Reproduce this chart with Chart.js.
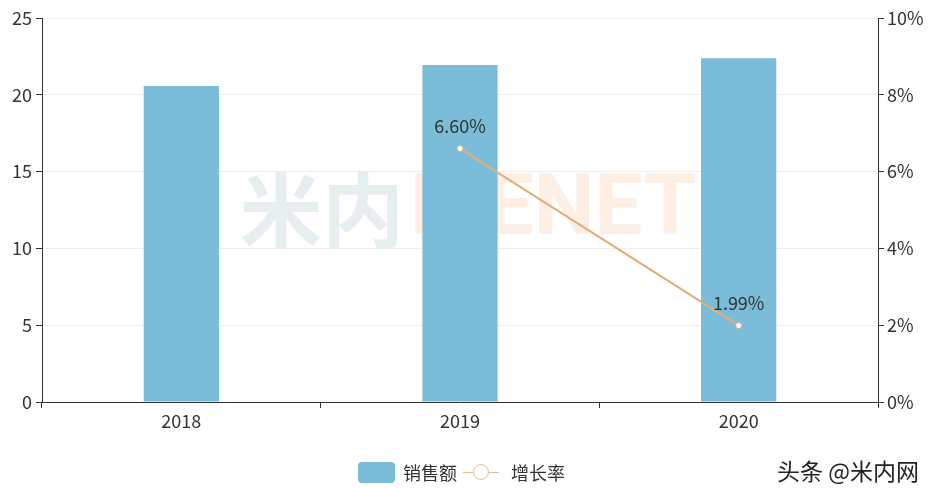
<!DOCTYPE html>
<html>
<head>
<meta charset="utf-8">
<script src="https://cdn.jsdelivr.net/npm/chart.js@4/dist/chart.umd.min.js"></script>
<style>
  html, body { margin: 0; padding: 0; background: #fff; }
  #wrap { position: relative; width: 934px; height: 488px; }
  .lg { position: absolute; top: 459px; font: 18px "Noto Sans CJK SC", sans-serif; color: #333; display: flex; align-items: center; }
  .sw-bar { display: inline-block; width: 37px; height: 21px; border-radius: 4px; background: #7bbdd8; margin-right: 8px; }
  .sw-line { position: relative; display: inline-block; width: 36px; height: 21px; margin-right: 12px; }
  .sw-line:before { content: ""; position: absolute; left: 0; right: 0; top: 10px; height: 1px; background: #e3c29a; }
  .sw-line:after { content: ""; position: absolute; left: 10px; top: 2px; width: 14px; height: 14px; border: 1.5px solid #e3c29a; border-radius: 50%; background: #fff; }
  #mark { position: absolute; left: 777px; top: 453px; font: 23px "Noto Sans CJK SC", sans-serif; color: #222; }
</style>
</head>
<body>
<div id="wrap">
  <canvas id="c" width="934" height="488"></canvas>
  <div class="lg" style="left:358px"><span class="sw-bar"></span>销售额</div>
  <div class="lg" style="left:463px"><span class="sw-line"></span>增长率</div>
  <div id="mark">头条 @米内网</div>
</div>
<script>
const years = ["2018", "2019", "2020"];
const sales = [20.57, 21.94, 22.38];
const growth = [null, 6.60, 1.99];
const leftTicks = [0, 5, 10, 15, 20, 25];
const rightTicks = [0, 2, 4, 6, 8, 10];

const font = "Noto Sans CJK SC";

// faint watermark behind the bars
const watermark = {
  id: "watermark",
  beforeDatasetsDraw(chart) {
    const ctx = chart.ctx;
    ctx.save();
    ctx.font = "bold 82px " + font;
    ctx.textBaseline = "middle";
    ctx.fillStyle = "#e6eef0";
    ctx.fillText("米内", 240, 210);
    ctx.fillStyle = "#fdefe4";
    ctx.font = "bold 86px Roboto";
    ctx.fillText("MENET", 410, 212);
    ctx.restore();
  },
};

// percent labels above the line points
const pointLabels = {
  id: "pointLabels",
  afterDatasetsDraw(chart) {
    const ctx = chart.ctx;
    const meta = chart.getDatasetMeta(1);
    ctx.save();
    ctx.font = "18px " + font;
    ctx.fillStyle = "#333";
    ctx.textAlign = "center";
    ctx.textBaseline = "middle";
    meta.data.forEach((p, i) => {
      if (growth[i] == null) return;
      ctx.fillText(growth[i].toFixed(2) + "%", p.x, p.y - 22);
    });
    ctx.restore();
  },
};

new Chart(document.getElementById("c"), {
  data: {
    labels: years,
    datasets: [
      { type: "bar", label: "销售额", data: sales, yAxisID: "y", backgroundColor: "#7bbdd8", barPercentage: 0.27, categoryPercentage: 1, order: 2 },
      {
        type: "line", label: "增长率", data: growth, yAxisID: "y1",
        borderColor: "#e2ad78", borderWidth: 2, pointRadius: 3, pointBorderWidth: 1,
        pointBackgroundColor: "#fff", pointBorderColor: "#e2ad78", order: 1,
      },
    ],
  },
  options: {
    responsive: false,
    animation: false,
    layout: { padding: { top: 18, left: 0, right: 0, bottom: 0 } },
    plugins: { legend: { display: false }, tooltip: { enabled: false } },
    scales: {
      x: {
        offset: true,
        grid: { offset: true, drawOnChartArea: false, drawTicks: true, tickLength: 6, color: "#333" },
        border: { color: "#333" },
        ticks: { color: "#333", font: { family: font, size: 18 }, padding: 2 },
        afterFit: (s) => { s.height = 86; },
      },
      y: {
        position: "left", min: 0, max: 25,
        afterBuildTicks: (s) => { s.ticks = leftTicks.map((v) => ({ value: v })); },
        grid: { color: "#eeeeee", tickColor: "#333", tickLength: 6 },
        border: { color: "#333" },
        ticks: { color: "#333", font: { family: font, size: 18 }, padding: 4 },
        afterFit: (s) => { s.width = 42; },
      },
      y1: {
        position: "right", min: 0, max: 10,
        afterBuildTicks: (s) => { s.ticks = rightTicks.map((v) => ({ value: v })); },
        grid: { drawOnChartArea: false, tickColor: "#333", tickLength: 6 },
        border: { color: "#333" },
        ticks: { color: "#333", font: { family: font, size: 18 }, padding: 3, callback: (v) => v + "%" },
        afterFit: (s) => { s.width = 56; },
      },
    },
  },
  plugins: [watermark, pointLabels],
});
</script>
</body>
</html>
